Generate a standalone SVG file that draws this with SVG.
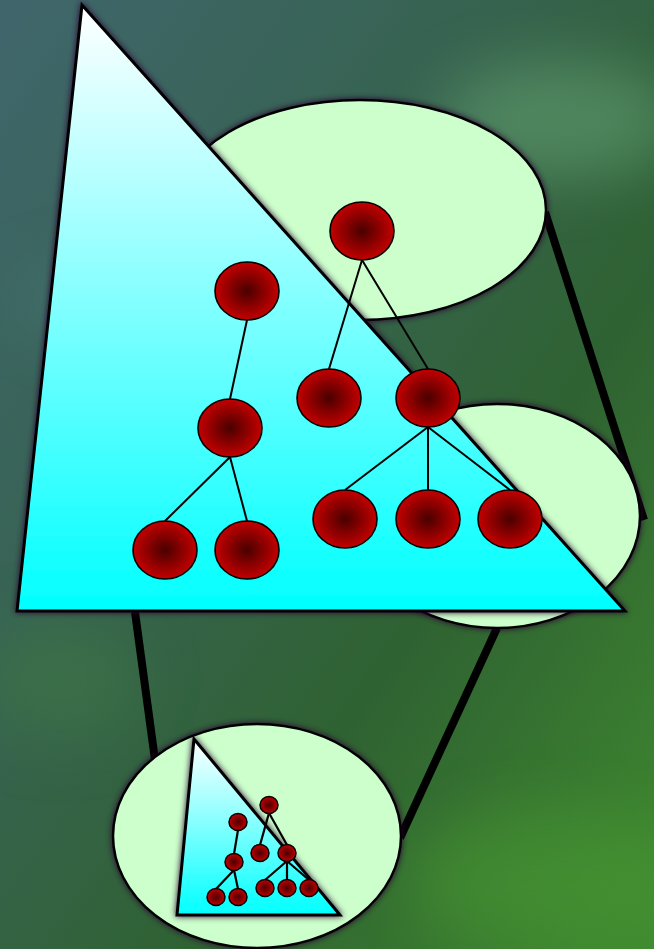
<svg xmlns="http://www.w3.org/2000/svg" width="654" height="949" viewBox="0 0 654 949">
<defs>
<linearGradient id="bg" x1="0" y1="0" x2="1" y2="1">
<stop offset="0" stop-color="#40666c"/>
<stop offset="0.35" stop-color="#376352"/>
<stop offset="0.65" stop-color="#2f6232"/>
<stop offset="1" stop-color="#3f8a2f"/>
</linearGradient>
<linearGradient id="tri" x1="0" y1="0" x2="0" y2="1">
<stop offset="0" stop-color="#ffffff"/>
<stop offset="1" stop-color="#00ffff"/>
</linearGradient>
<radialGradient id="node" cx="0.5" cy="0.5" r="0.5">
<stop offset="0" stop-color="#4a0000"/>
<stop offset="1" stop-color="#c40000"/>
</radialGradient>
<filter id="glow" x="-10%" y="-10%" width="120%" height="120%">
<feGaussianBlur in="SourceAlpha" stdDeviation="3" result="b"/>
<feFlood flood-color="#2a0630" result="c"/>
<feComposite in="c" in2="b" operator="in" result="s"/>
<feMerge><feMergeNode in="s"/><feMergeNode in="SourceGraphic"/></feMerge>
</filter>
<filter id="soft"><feGaussianBlur stdDeviation="30"/></filter>
</defs>
<style>
.ell{fill:#ccffcc;stroke:#000;stroke-width:2.5}
.tri{fill:url(#tri);stroke:#000;stroke-width:3}
.n{fill:url(#node);stroke:#000;stroke-width:1.6}
.sn{fill:url(#node);stroke:#000;stroke-width:1.5}
.e{stroke:#000;stroke-width:2;fill:none}
.se{stroke:#000;stroke-width:2.2;fill:none}
.thick{stroke:#000;stroke-width:8;fill:none}
</style>
<rect width="654" height="949" fill="url(#bg)"/>
<g filter="url(#soft)" opacity="0.5">
<ellipse cx="560" cy="120" rx="120" ry="60" fill="#6aa878"/>
<ellipse cx="150" cy="300" rx="140" ry="40" fill="#4a7a78"/>
<ellipse cx="550" cy="880" rx="140" ry="70" fill="#4a9a30"/>
<ellipse cx="60" cy="680" rx="80" ry="60" fill="#3f7a45"/>
</g>
<g id="connectors-thick">
<line class="thick" x1="545" y1="212" x2="644" y2="520"/>
<line class="thick" x1="135" y1="612" x2="155" y2="760"/>
<line class="thick" x1="497" y1="628" x2="400" y2="838"/>
</g>
<g id="ellipse-top"><ellipse class="ell" cx="360" cy="210" rx="186" ry="110" filter="url(#glow)"/></g>
<g id="ellipse-right"><ellipse class="ell" cx="497" cy="516" rx="143" ry="112" filter="url(#glow)"/></g>
<g id="ellipse-bottom"><ellipse class="ell" cx="257" cy="836" rx="144" ry="112" filter="url(#glow)"/></g>
<g id="triangle-big"><polygon class="tri" points="82,5 17,611 625,611" filter="url(#glow)"/></g>
<g id="triangle-small"><polygon class="tri" points="194,739 177,915 340,915" filter="url(#glow)"/></g>
<g id="connectors">
<line class="e" x1="247" y1="320" x2="230" y2="399"/>
<line class="e" x1="230" y1="457" x2="165" y2="521"/>
<line class="e" x1="230" y1="457" x2="247" y2="521"/>
<line class="e" x1="362" y1="260" x2="329" y2="369"/>
<line class="e" x1="362" y1="260" x2="428" y2="369"/>
<line class="e" x1="428" y1="427" x2="345" y2="490"/>
<line class="e" x1="428" y1="427" x2="428" y2="490"/>
<line class="e" x1="428" y1="427" x2="510" y2="490"/>
<line class="se" x1="238" y1="830" x2="234" y2="854"/>
<line class="se" x1="234" y1="870" x2="216" y2="889"/>
<line class="se" x1="234" y1="870" x2="238" y2="889"/>
<line class="se" x1="269" y1="813" x2="260" y2="845"/>
<line class="se" x1="269" y1="813" x2="287" y2="845"/>
<line class="se" x1="287" y1="861" x2="265" y2="880"/>
<line class="se" x1="287" y1="861" x2="287" y2="880"/>
<line class="se" x1="287" y1="861" x2="309" y2="880"/>
</g>
<g id="node-root"><ellipse class="n" cx="362" cy="231" rx="32" ry="29"/></g>
<g id="node-l1"><ellipse class="n" cx="247" cy="291" rx="32" ry="29"/></g>
<g id="node-l2"><ellipse class="n" cx="230" cy="428" rx="32" ry="29"/></g>
<g id="node-l3a"><ellipse class="n" cx="165" cy="550" rx="32" ry="29"/></g>
<g id="node-l3b"><ellipse class="n" cx="247" cy="550" rx="32" ry="29"/></g>
<g id="node-r1"><ellipse class="n" cx="329" cy="398" rx="32" ry="29"/></g>
<g id="node-r2"><ellipse class="n" cx="428" cy="398" rx="32" ry="29"/></g>
<g id="node-r3a"><ellipse class="n" cx="345" cy="519" rx="32" ry="29"/></g>
<g id="node-r3b"><ellipse class="n" cx="428" cy="519" rx="32" ry="29"/></g>
<g id="node-r3c"><ellipse class="n" cx="510" cy="519" rx="32" ry="29"/></g>
<g id="snode-root"><ellipse class="sn" cx="269" cy="805" rx="9" ry="8.5"/></g>
<g id="snode-l1"><ellipse class="sn" cx="238" cy="822" rx="9" ry="8.5"/></g>
<g id="snode-l2"><ellipse class="sn" cx="234" cy="862" rx="9" ry="8.5"/></g>
<g id="snode-l3a"><ellipse class="sn" cx="216" cy="897" rx="9" ry="8.5"/></g>
<g id="snode-l3b"><ellipse class="sn" cx="238" cy="897" rx="9" ry="8.5"/></g>
<g id="snode-r1"><ellipse class="sn" cx="260" cy="853" rx="9" ry="8.5"/></g>
<g id="snode-r2"><ellipse class="sn" cx="287" cy="853" rx="9" ry="8.5"/></g>
<g id="snode-r3a"><ellipse class="sn" cx="265" cy="888" rx="9" ry="8.5"/></g>
<g id="snode-r3b"><ellipse class="sn" cx="287" cy="888" rx="9" ry="8.5"/></g>
<g id="snode-r3c"><ellipse class="sn" cx="309" cy="888" rx="9" ry="8.5"/></g>
</svg>
